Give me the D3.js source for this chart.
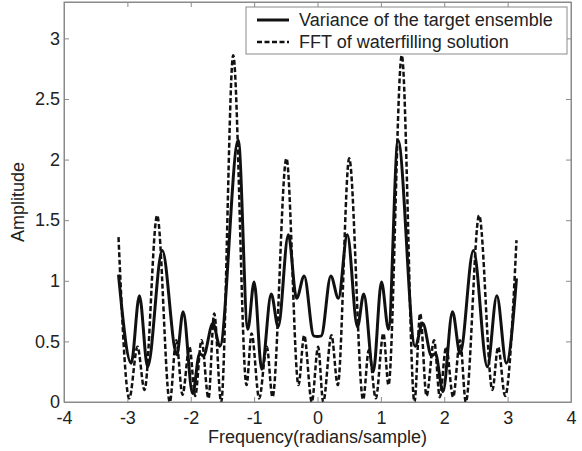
<!DOCTYPE html>
<html>
<head>
<meta charset="utf-8">
<script src="https://cdn.jsdelivr.net/npm/d3@7"></script>
<style>
  body { margin: 0; background: #fff; }
  text { font-family: Arial, "Liberation Sans", sans-serif; fill: #222; }
</style>
</head>
<body>
<div id="viz"></div>
<script>
// values
var varX = [-3.14, -2.94, -2.81, -2.68, -2.45, -2.22, -2.12, -1.97, -1.86, -1.80, -1.65, -1.54,
  -1.25, -1.10, -1.00, -0.88, -0.73, -0.62, -0.46, -0.33, -0.21, -0.06, 0, 0.06,
  0.21, 0.33, 0.47, 0.63, 0.73, 0.88, 1.01, 1.12, 1.27, 1.54, 1.66, 1.80,
  1.86, 1.98, 2.13, 2.25, 2.46, 2.68, 2.83, 2.98, 3.14];
var varY = [1.05, 0.32, 0.876, 0.29, 1.25, 0.39, 0.745, 0.07, 0.40, 0.38, 0.65, 0.46,
  2.16, 0.60, 0.99, 0.27, 0.89, 0.62, 1.38, 0.855, 1.04, 0.545, 0.54, 0.545,
  1.04, 0.855, 1.38, 0.62, 0.89, 0.25, 0.99, 0.60, 2.16, 0.46, 0.65, 0.38,
  0.40, 0.085, 0.745, 0.40, 1.25, 0.29, 0.876, 0.32, 1.02];

var fftX = [-3.14, -2.97, -2.84, -2.73, -2.53, -2.33, -2.23, -2.13, -2.02, -1.93, -1.83, -1.72,
  -1.63, -1.52, -1.33, -1.12, -1.04, -0.92, -0.80, -0.71, -0.49, -0.30, -0.21, -0.09,
  0.01, 0.09, 0.22, 0.32, 0.50, 0.72, 0.81, 0.92, 1.04, 1.12, 1.33, 1.53,
  1.62, 1.72, 1.84, 1.93, 2.03, 2.14, 2.25, 2.34, 2.55, 2.76, 2.85, 2.96, 3.14];
var fftY = [1.36, 0.03, 0.455, 0.10, 1.54, 0.0, 0.51, 0.06, 0.455, 0.05, 0.51, 0.03,
  0.73, 0.0, 2.86, 0.14, 0.566, 0.03, 0.455, 0.04, 2.01, 0.14, 0.55, 0.0,
  0.455, 0.0, 0.55, 0.14, 2.01, 0.02, 0.43, 0.03, 0.566, 0.14, 2.86, 0.0,
  0.73, 0.05, 0.51, 0.04, 0.455, 0.04, 0.51, 0.0, 1.54, 0.10, 0.455, 0.05, 1.335];

var xTicks = [-4, -3, -2, -1, 0, 1, 2, 3, 4];
var yTicks = [0, 0.5, 1, 1.5, 2, 2.5, 3];
var seriesNames = ['Variance of the target ensemble', 'FFT of waterfilling solution'];

var width = 582, height = 451;
var plotLeft = 64, plotRight = 571, plotTop = 2, plotBottom = 402;
var axisColor = '#8a8a8a';
var fontSize = '18px';

var svg = d3.select('#viz').append('svg')
  .attr('width', width)
  .attr('height', height);

var x = d3.scaleLinear().domain([-4, 4]).range([plotLeft, plotRight]);
var y = d3.scaleLinear().domain([0, 3.3]).range([plotBottom, plotTop]);

svg.append('clipPath').attr('id', 'clip')
  .append('rect')
  .attr('x', plotLeft).attr('y', plotTop)
  .attr('width', plotRight - plotLeft).attr('height', plotBottom - plotTop);

function plain(d) { return String(d); }

// axes with inward ticks on all four sides
function styleAxis(g) {
  g.selectAll('.domain').attr('stroke', axisColor);
  g.selectAll('.tick line').attr('stroke', axisColor);
  g.selectAll('.tick text').style('font-size', fontSize).attr('fill', '#222');
}

svg.append('g')
  .attr('transform', 'translate(0,' + plotBottom + ')')
  .call(d3.axisBottom(x).tickValues(xTicks).tickSizeInner(-5).tickSizeOuter(0)
    .tickPadding(9).tickFormat(plain))
  .call(styleAxis);

svg.append('g')
  .attr('transform', 'translate(0,' + plotTop + ')')
  .call(d3.axisTop(x).tickValues(xTicks).tickSizeInner(-5).tickSizeOuter(0).tickFormat(''))
  .call(styleAxis);

svg.append('g')
  .attr('transform', 'translate(' + plotLeft + ',0)')
  .call(d3.axisLeft(y).tickValues(yTicks).tickSizeInner(-5).tickSizeOuter(0)
    .tickPadding(4).tickFormat(plain))
  .call(styleAxis);

svg.append('g')
  .attr('transform', 'translate(' + plotRight + ',0)')
  .call(d3.axisRight(y).tickValues(yTicks).tickSizeInner(-5).tickSizeOuter(0).tickFormat(''))
  .call(styleAxis);

// close the box at the corners
svg.append('rect')
  .attr('x', plotLeft).attr('y', plotTop)
  .attr('width', plotRight - plotLeft).attr('height', plotBottom - plotTop)
  .attr('fill', 'none')
  .attr('stroke', axisColor);

var line = d3.line()
  .x(function(d) { return x(d[0]); })
  .y(function(d) { return y(d[1]); })
  .curve(d3.curveMonotoneX);

var plot = svg.append('g').attr('clip-path', 'url(#clip)');

plot.append('path')
  .datum(d3.zip(fftX, fftY))
  .attr('d', line)
  .attr('fill', 'none')
  .attr('stroke', '#111')
  .attr('stroke-width', 2.5)
  .attr('stroke-dasharray', '5,2.5');

plot.append('path')
  .datum(d3.zip(varX, varY))
  .attr('d', line)
  .attr('fill', 'none')
  .attr('stroke', '#111')
  .attr('stroke-width', 3);

// axis labels
svg.append('text')
  .attr('x', (plotLeft + plotRight) / 2)
  .attr('y', 443)
  .attr('text-anchor', 'middle')
  .style('font-size', fontSize)
  .text('Frequency(radians/sample)');

svg.append('text')
  .attr('transform', 'translate(24,' + (plotBottom + plotTop) / 2 + ') rotate(-90)')
  .attr('text-anchor', 'middle')
  .style('font-size', fontSize)
  .text('Amplitude');

// legend
var legend = svg.append('g');
legend.append('rect')
  .attr('x', 246).attr('y', 7)
  .attr('width', 321).attr('height', 47)
  .attr('fill', '#fff')
  .attr('stroke', axisColor);

seriesNames.forEach(function(name, i) {
  var ly = 20 + i * 22;
  legend.append('line')
    .attr('x1', 257).attr('x2', 289)
    .attr('y1', ly).attr('y2', ly)
    .attr('stroke', '#111')
    .attr('stroke-width', i === 0 ? 3 : 2.5)
    .attr('stroke-dasharray', i === 0 ? null : '5,2.5');
  legend.append('text')
    .attr('x', 299)
    .attr('y', ly + 6)
    .style('font-size', fontSize)
    .text(name);
});
</script>
</body>
</html>
